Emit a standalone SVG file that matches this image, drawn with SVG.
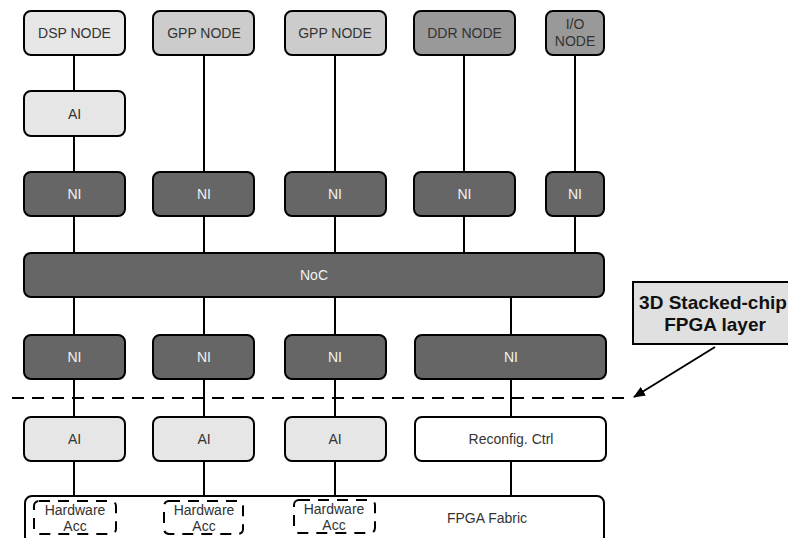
<svg xmlns="http://www.w3.org/2000/svg" width="788" height="538" viewBox="0 0 788 538">
<style>
.b{stroke:#000;stroke-width:2}
.l1{fill:#e6e6e6}.l2{fill:#cccccc}.l3{fill:#999999}.dk{fill:#666666}.wh{fill:#ffffff}
.t{font-family:"Liberation Sans",Arial,sans-serif;font-size:14px;fill:#333;text-anchor:middle;dominant-baseline:central}
.tw{fill:#f2f2f2}
.c{stroke:#000;stroke-width:2;fill:none}
.hw{fill:none;stroke:#000;stroke-width:2;stroke-dasharray:11 8}
.cb{font-family:"Liberation Sans",Arial,sans-serif;font-size:19px;font-weight:bold;fill:#111;text-anchor:middle}
</style>
<defs>
<marker id="ah" markerWidth="12" markerHeight="10" refX="11" refY="5" orient="auto" markerUnits="userSpaceOnUse">
<path d="M0,0 L12,5 L0,10 Z" fill="#000"/>
</marker>
</defs>
<g id="connectors">
<path class="c" d="M74,55V91M74,136V172M74,216V253M74,297V335M74,379V417M74,461V496"/>
<path class="c" d="M204,55V172M204,216V253M204,297V335M204,379V417M204,461V496"/>
<path class="c" d="M335,55V172M335,216V253M335,297V335M335,379V417M335,461V496"/>
<path class="c" d="M464,55V172M464,216V253"/>
<path class="c" d="M575,55V172M575,216V253"/>
<path class="c" d="M511,297V335M511,379V417M511,461V496"/>
<path d="M12,398H632" stroke="#000" stroke-width="2" stroke-dasharray="12 8" fill="none"/>
<path class="c" d="M715,347L634,397" marker-end="url(#ah)"/>
</g>
<g id="dsp"><rect class="b l1" x="24" y="11" width="101" height="44" rx="7"/><text class="t" x="74.5" y="33">DSP NODE</text></g>
<g id="gpp1"><rect class="b l2" x="153" y="11" width="101" height="44" rx="7"/><text class="t" x="204" y="33">GPP NODE</text></g>
<g id="gpp2"><rect class="b l2" x="285" y="11" width="101" height="44" rx="7"/><text class="t" x="335" y="33">GPP NODE</text></g>
<g id="ddr"><rect class="b l3" x="414" y="11" width="101" height="44" rx="7"/><text class="t" x="464.5" y="33">DDR NODE</text></g>
<g id="io"><rect class="b l3" x="546" y="11" width="58" height="44" rx="7"/><text class="t" x="575" y="24">I/O</text><text class="t" x="575" y="41">NODE</text></g>
<g id="ai-top"><rect class="b l1" x="24" y="91" width="101" height="45" rx="7"/><text class="t" x="74.5" y="113.5">AI</text></g>
<g id="ni1"><rect class="b dk" x="24" y="172" width="101" height="44" rx="7"/><text class="t tw" x="74.5" y="194">NI</text></g>
<g id="ni2"><rect class="b dk" x="153" y="172" width="101" height="44" rx="7"/><text class="t tw" x="204" y="194">NI</text></g>
<g id="ni3"><rect class="b dk" x="285" y="172" width="101" height="44" rx="7"/><text class="t tw" x="335" y="194">NI</text></g>
<g id="ni4"><rect class="b dk" x="414" y="172" width="101" height="44" rx="7"/><text class="t tw" x="464.5" y="194">NI</text></g>
<g id="ni5"><rect class="b dk" x="546" y="172" width="58" height="44" rx="7"/><text class="t tw" x="575" y="194">NI</text></g>
<g id="noc"><rect class="b dk" x="24" y="253" width="580" height="44" rx="7"/><text class="t tw" x="314" y="275">NoC</text></g>
<g id="ni6"><rect class="b dk" x="24" y="335" width="101" height="44" rx="7"/><text class="t tw" x="74.5" y="357">NI</text></g>
<g id="ni7"><rect class="b dk" x="153" y="335" width="101" height="44" rx="7"/><text class="t tw" x="204" y="357">NI</text></g>
<g id="ni8"><rect class="b dk" x="285" y="335" width="101" height="44" rx="7"/><text class="t tw" x="335" y="357">NI</text></g>
<g id="ni9"><rect class="b dk" x="415" y="335" width="191" height="44" rx="7"/><text class="t tw" x="511" y="357">NI</text></g>
<g id="ai1"><rect class="b l1" x="24" y="417" width="101" height="44" rx="7"/><text class="t" x="74.5" y="439">AI</text></g>
<g id="ai2"><rect class="b l1" x="153" y="417" width="101" height="44" rx="7"/><text class="t" x="204" y="439">AI</text></g>
<g id="ai3"><rect class="b l1" x="285" y="417" width="101" height="44" rx="7"/><text class="t" x="335" y="439">AI</text></g>
<g id="reconfig"><rect class="b wh" x="415" y="417" width="191" height="44" rx="7"/><text class="t" x="511" y="439">Reconfig. Ctrl</text></g>
<g id="fabric"><rect class="b wh" x="25" y="496" width="579" height="48" rx="7"/><text class="t" x="487" y="518">FPGA Fabric</text></g>
<g id="hw1"><rect class="hw" x="34" y="501" width="82" height="33" rx="5"/><text class="t" x="75" y="510">Hardware</text><text class="t" x="75" y="526">Acc</text></g>
<g id="hw2"><rect class="hw" x="164" y="501" width="79" height="33" rx="5"/><text class="t" x="204" y="510">Hardware</text><text class="t" x="204" y="526">Acc</text></g>
<g id="hw3"><rect class="hw" x="294" y="500" width="81" height="33" rx="5"/><text class="t" x="334" y="509">Hardware</text><text class="t" x="334" y="525">Acc</text></g>
<g id="callout"><rect x="633" y="282" width="165" height="62" fill="#e0e0e0" stroke="#000" stroke-width="2"/><text class="cb" x="713" y="309">3D Stacked-chip</text><text class="cb" x="715" y="331">FPGA layer</text></g>
</svg>
